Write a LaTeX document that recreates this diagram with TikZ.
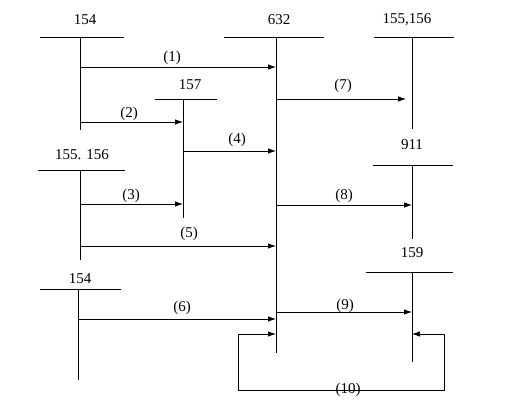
\documentclass[tikz,border=0pt]{standalone}
\usepackage{fontspec}
\setmainfont{Liberation Serif}
\usetikzlibrary{arrows.meta}
\begin{document}
\begin{tikzpicture}[x=1pt,y=-1pt,line width=0.75pt,
  flow/.style={-{Latex[length=8pt,width=5.5pt]}},
  lbl/.style={font=\fontsize{15}{16}\selectfont,inner sep=0pt}]
\useasboundingbox (0,0) rectangle (506,402);
% T-account titles
\node[lbl] (t154a) at (85,20) {154};
\node[lbl] (t632) at (279,20) {632};
\node[lbl] (t155r) at (407,20) {155,156};
\node[lbl] (t157) at (190,85) {157};
\node[lbl] (t155l) at (82,155) {155. 156};
\node[lbl] (t911) at (412,145) {911};
\node[lbl] (t159) at (412,253) {159};
\node[lbl] (t154b) at (80,279) {154};
% T-account bars and stems
\draw (40,37) -- (124,37);   \draw (80,37) -- (80,130);
\draw (224,37) -- (324,37);  \draw (276,37) -- (276,353);
\draw (374,37) -- (454,37);  \draw (412,37) -- (412,129);
\draw (155,99) -- (217,99);  \draw (183,99) -- (183,218);
\draw (38,170) -- (125,170); \draw (80,170) -- (80,260);
\draw (373,165) -- (453,165);\draw (412,165) -- (412,239);
\draw (366,272) -- (453,272);\draw (412,272) -- (412,362);
\draw (40,289) -- (121,289); \draw (78,289) -- (78,380);
% connector end points
\coordinate (s1) at (80,67);   \coordinate (e1) at (276,67);
\coordinate (s2) at (80,122);  \coordinate (e2) at (183,122);
\coordinate (s3) at (80,204);  \coordinate (e3) at (183,204);
\coordinate (s4) at (183,151); \coordinate (e4) at (276,151);
\coordinate (s5) at (80,246);  \coordinate (e5) at (276,246);
\coordinate (s6) at (78,319);  \coordinate (e6) at (276,319);
\coordinate (s7) at (276,99);  \coordinate (e7) at (406,99);
\coordinate (s8) at (276,205); \coordinate (e8) at (412,205);
\coordinate (s9) at (276,312); \coordinate (e9) at (412,312);
\coordinate (r1) at (444,334); \coordinate (r2) at (444,390);
\coordinate (r3) at (238,390); \coordinate (r4) at (238,334);
\coordinate (e10a) at (276,334); \coordinate (e10b) at (412,334);
% connectors
\draw[flow] (s1) -- (e1);
\draw[flow] (s2) -- (e2);
\draw[flow] (s3) -- (e3);
\draw[flow] (s4) -- (e4);
\draw[flow] (s5) -- (e5);
\draw[flow] (s6) -- (e6);
\draw[flow] (s7) -- (e7);
\draw[flow] (s8) -- (e8);
\draw[flow] (s9) -- (e9);
\draw[flow] (r1) -- (e10b);
\draw[flow] (r1) -- (r2) -- (r3) -- (r4) -- (e10a);
% connector labels
\node[lbl] (l1) at (172,58) {(1)};
\node[lbl] (l2) at (129,114) {(2)};
\node[lbl] (l3) at (131,196) {(3)};
\node[lbl] (l4) at (237,140) {(4)};
\node[lbl] (l5) at (189,234) {(5)};
\node[lbl] (l6) at (182,308) {(6)};
\node[lbl] (l7) at (343,86) {(7)};
\node[lbl] (l8) at (344,196) {(8)};
\node[lbl] (l9) at (345,306) {(9)};
\node[lbl] (l10) at (348,390) {(10)};
\end{tikzpicture}
\end{document}
